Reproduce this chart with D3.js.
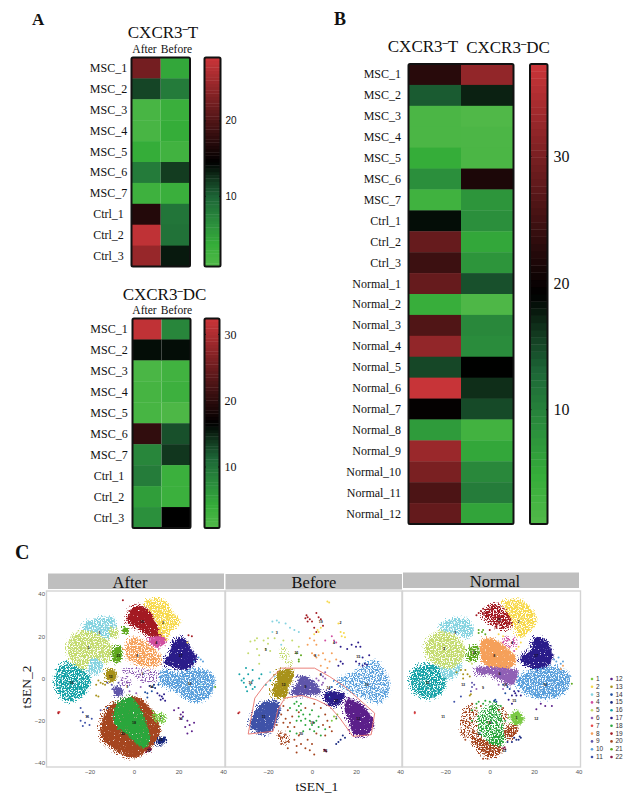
<!DOCTYPE html>
<html>
<head>
<meta charset="utf-8">
<script src="https://cdnjs.cloudflare.com/ajax/libs/d3/7.8.5/d3.min.js"></script>
<style>
  html, body { margin: 0; padding: 0; background: #fff; }
  svg { display: block; }
  text { font-family: "Liberation Serif", serif; fill: #111; }
  .tsneAxis text { font-family: "Liberation Sans", sans-serif; font-size: 6px; fill: #555; }
  .legendText { font-family: "Liberation Sans", sans-serif; font-size: 6.5px; fill: #333; }
</style>
</head>
<body>
<script>
// HEATMAP DATA //
const mscCtrlRows = ['MSC_1','MSC_2','MSC_3','MSC_4','MSC_5','MSC_6','MSC_7','Ctrl_1','Ctrl_2','Ctrl_3'];
const allRows = mscCtrlRows.concat(['Normal_1','Normal_2','Normal_3','Normal_4','Normal_5','Normal_6',
  'Normal_7','Normal_8','Normal_9','Normal_10','Normal_11','Normal_12']);
const afterBefore = ['After', 'Before'];
const tCols = ['CXCR3-T', 'CXCR3-DC'];

const tAfter  = [22.6, 11.5, 1.5, 1.5, 3.5, 8, 2.5, 17, 27.8, 25];
const tBefore = [4, 8, 3, 3.5, 2.2, 12, 3, 8.5, 8.8, 13.5];
const dcAfter  = [31.8, 16, 1.5, 2, 1.8, 20.5, 8, 9, 5.5, 7];
const dcBefore = [8, 16, 2.5, 3, 1.2, 12.5, 14, 3.2, 3.2, 16.6];
const bT  = [22.8, 13.7, 1.7, 1.7, 4.6, 8.2, 3.1, 18.4, 28.4, 24.6, 28.4, 4.2, 26.4, 32.4, 15, 37.2, 19.5, 6.8, 33.1, 30.2, 26, 28.2];
const bDC = [32.4, 17.3, 1, 1.5, 1.7, 21.7, 7.5, 8.2, 5.3, 7.5, 14.4, 1.2, 9, 8.6, 19.1, 16.6, 14.8, 2.8, 5.3, 9, 10.4, 5.7];

const colorStops = [0, 0.1, 0.2, 0.33, 0.42, 0.5, 1];
const colorRange = ['#50b848', '#35ad39', '#2b8f3c', '#1d6637', '#11351d', '#000000', '#c83438'];

// TSNE DATA //
const clusterIds = d3.range(1, 23);
const clusterColors = ['#7ac943','#f7d94c','#85d3e0','#d14fa0','#c4db6e','#9060b5','#e84a4a','#f5a05a','#5f55aa','#5ba0dc','#3f52a8',
  '#5b1f8a','#a8921a','#1f4fa0','#1a2a80','#17a3a8','#2a1c8a','#2aa63c','#a31a22','#a5451f','#5ea81e','#8a1a4a'];
const xTicks = [-20, 0, 20, 40];
const yTicks = [-40, -20, 0, 20, 40];
const panelNames = ['After', 'Before', 'Normal'];

// cluster outlines in tSNE coordinates: [cluster, texture, [[x,y],...]]
const afterBlobs = [
  [16,'dense',[[-33.3,5.8],[-28,6.9],[-19.8,.3],[-22.8,-7.6],[-30.3,-10.4],[-34.8,-4.4]]],
  [3,'dense',[[-22.8,24.7],[-18.3,27.9],[-9.3,28.3],[-8.5,23.1],[-10.8,19.2],[-16.8,20.8],[-22,21.7]]],
  [3,'dense',[[-19,10],[-14,11],[-14,6],[-17,2],[-20,3]]],
  [5,'dense',[[-28.8,17.6],[-22.8,22.7],[-15.3,20.8],[-10,14.5],[-12.2,7.4],[-18.3,9.8],[-22.8,4.3],[-28.8,9.8]]],
  [5,'dense',[[-11,24],[-8,23.5],[-7.5,20],[-10,19.5]]],
  [19,'solid',[[-2.8,29.4],[-.3,34],[5.7,33.4],[10.2,25.5],[12.7,19.2],[7.2,20],[1.2,24.1],[-2.5,26.3]]],
  [2,'dense',[[5.7,36.5],[13.2,36.9],[17.7,31],[20.7,27],[16.2,22.4],[14.7,18.4],[11.7,19.2],[10.2,27],[6.4,33.4]]],
  [4,'solid',[[7.2,19.2],[13.7,19.5],[14,16.9],[10.2,14.5],[7.2,16.4]]],
  [17,'solid',[[17.7,17.6],[21.9,19.2],[25.9,13],[28.2,9.8],[23.7,4.3],[16.2,5.8],[13.2,7.4],[16.2,12.1]]],
  [8,'dense',[[-1,19.2],[2.7,18.4],[10.9,12.1],[11.7,7.4],[5.7,5.8],[-2.5,9.8],[-3.6,14.5]]],
  [6,'sparse',[[-5.5,4.3],[2.7,5],[11.7,2.7],[10.2,-1.3],[4.2,-2],[-.3,1.9],[-4.8,2.7]]],
  [6,'sparse',[[-6.5,0],[-2,1],[-1,-3],[-6,-3]]],
  [10,'dense',[[13.2,3.5],[19.2,2.7],[29.7,4.3],[36,.3],[33.7,-8.3],[27,-10.7],[19.2,-6],[11.7,-1.3]]],
  [13,'solid',[[-12.5,4],[-9,4],[-8,.5],[-10,-1.5],[-12.5,0]]],
  [21,'solid',[[-9,14],[-6.5,15],[-5.5,10.5],[-7.5,7.5],[-9.5,9]]],
  [21,'solid',[[-4.8,24],[-3,24],[-3,21.5],[-4.8,21.5]]],
  [9,'solid',[[-9,-4],[-6,-4.5],[-5,-7.5],[-8.5,-8]]],
  [20,'solid',[[-7.8,-11.5],[-.3,-8.8],[5.7,-12.3],[11.7,-24.9],[7.2,-32.8],[-.3,-37.5],[-7.8,-34.4],[-14.5,-28],[-14.5,-20.2],[-10.8,-13]]],
  [18,'solid',[[-7.8,-12.3],[-1,-9.1],[2.7,-13.9],[7.2,-29.6],[4.2,-32.8],[-3.3,-26.5],[-8.5,-21.7]]],
  [1,'dense',[[8.7,-16.2],[13.9,-17.8],[13.2,-20.9],[9.4,-20.2]]],
  [15,'solid',[[10,-30],[13.5,-27.5],[14.5,-29],[11.5,-31.5]]],
  [22,'solid',[[5.5,-33],[7.5,-33],[7.5,-34.3],[5.5,-34.3]]]
];
const beforeBlobs = [
  [10,'medium',[[11,-1.4],[18.6,2.5],[29,8],[35.3,-4.6],[30.8,-10.9],[21.7,-7.7],[14.1,-3.8]]],
  [11,'solid',[[-21.5,-10.9],[-15.5,-11.7],[-14.7,-14.8],[-17,-21.9],[-20,-25.8],[-26.8,-24.3],[-28.3,-21.9],[-25.3,-14.8]]],
  [13,'solid',[[-15.5,3.3],[-9.4,4.1],[-8.6,.9],[-10.9,-3.8],[-11.7,-8.5],[-17,-8.5],[-18,-5.4],[-16.2,-1.4]]],
  [9,'solid',[[-5.6,.9],[-1.8,.2],[2.7,-3.8],[3.5,-6.9],[-1.1,-7.7],[-7.9,-7.7],[-9.4,-6.1],[-6.4,-2.2]]],
  [17,'solid',[[5.8,-6.9],[10.3,-6.1],[14.8,-7.7],[12.6,-11.7],[9.5,-13.2],[6.5,-10.9]]],
  [12,'solid',[[15.6,-10.1],[20.2,-10.9],[24.7,-14.8],[27.7,-20.3],[26.9,-24.3],[23.2,-27.4],[18.6,-25.8],[17.1,-20.3],[14.8,-14.8]]],
  [5,'sparse',[[-15,14],[-12,15],[-9,9],[-8,6.5],[-11,7],[-14,10]]],
  [20,'sparse',[[-16,-25.5],[-12,-25.5],[-9.5,-28],[-11.5,-31.5],[-14,-30]]]
];
const normalBlobs = [
  [16,'dense',[[-33.4,4.9],[-25.1,6.5],[-19.9,1.7],[-21.4,-6.1],[-26.6,-9.3],[-33.4,-6.9],[-35.6,.2]]],
  [3,'dense',[[-22.2,24.6],[-17.7,27.7],[-10.2,27.7],[-7.5,23.8],[-9.4,19.8],[-15.4,21.4],[-20.7,22.2]]],
  [3,'dense',[[-21,6],[-15,9],[-13,5],[-18,0],[-22,2]]],
  [5,'dense',[[-28.1,17.5],[-22.2,22.2],[-15.4,19.8],[-11,13.5],[-16.2,4.9],[-23.7,6.5],[-28.1,11.2]]],
  [19,'dense',[[-2.7,31.7],[3.3,35.1],[7.8,31.7],[10.8,26.1],[7.8,23.8],[1.8,25.4],[-2.7,29.3]]],
  [2,'dense',[[6.3,36.1],[14.5,36.7],[20.9,27.7],[17.5,22.2],[13.8,19.8],[10.8,25.4],[7.8,31.7]]],
  [4,'sparse',[[6.5,19.5],[12,19.5],[12.5,15],[7,15]]],
  [8,'solid',[[-3.4,18.3],[1.8,18.3],[11.5,9.6],[9.3,5.2],[-1.9,6.5],[-4.2,11.2]]],
  [17,'solid',[[20.5,19],[25.7,17.5],[28,9.6],[22.8,4.1],[16,6.5],[13.8,9.6],[18.3,13.5]]],
  [6,'solid',[[-6,4.9],[3.3,5.2],[12.3,3.3],[10,-3],[4.8,-.6],[.3,1.7],[-5.7,2.5]]],
  [10,'dense',[[12.3,-1.4],[19.8,4.1],[31.7,4.9],[36.2,.2],[33.2,-6.9],[24.3,-9.3],[16.8,-6.9]]],
  [21,'dense',[[-8.5,15],[-5,15],[-5,10],[-8,8.5],[-10,10]]],
  [20,'sparse',[[-12,-15],[-7,-12],[-5,-20],[-6,-27],[-12,-28]]],
  [20,'sparse',[[3,-13],[8,-16],[7,-22],[3,-20]]],
  [18,'medium',[[-5,-18.7],[3.3,-12.4],[6.3,-26.6],[3.3,-32.1],[-4.2,-25]]],
  [20,'dense',[[-7.9,-27.4],[-.4,-29.8],[5.5,-32.9],[2.5,-36.9],[-3.4,-35.3]]],
  [20,'dense',[[6.6,-24.3],[12.3,-21.9],[11.5,-26.6],[7.8,-28.2]]],
  [18,'dense',[[-.4,-29.8],[5.5,-25],[6.3,-30],[3.3,-32.1]]],
  [1,'solid',[[9.3,-18],[12.3,-15.6],[15.3,-19.5],[11.5,-21.9]]]
];

// single points: [x, y, cluster]
const afterPoints = [
  [-24,-14,11],[-23,-16,11],[-21,-18,11],[-24,-20,11],[-22,-21,11],[-20,-22,11],[-23,-22.5,11],[-19,-19,11],
  [18,-15,12],[20,-14,12],[21,-17,12],[22,-16,12],[21,-19,12],[24,-20,12],[25,-22,12],[27,-21,12],[23,-23,12],[26,-25,12],[24,-26,12],[22,-18,12],
  [10.5,-7,17],[11.5,-8,17],[12.5,-8.5,17],[13.5,-7.5,17],[12,-10,17],[13,-9.5,17],[14,-10.5,17],[9,-3,15],[8,-4,15],[9.5,-4.5,15],[7,-3.5,15],
  [-17,-8,13],[-16,-8.5,13],[-15,-2,13],[-17,-3,13],[-16,-1,13],[-14,-2.5,13],[-13,-3,13],
  [-34,-16,19],[-34,-16.5,19],[-33.5,-15.8,7],[8,-6,14],[6,-7,14],[5,-6.5,14],[11,-3,14],[6,-9,14],
  [-12,-2,9],[-10,-3,9],[-7,-2,9],[-3,-2,6],[-2,-6,6],[1,-7,6],[3,-4,6],[-15,-15,9],[-12,-14,14],[12,3,10],
  [-5,37,19],[-2,32,19],[30,9,10],[29,10,10],[31,8,10],[27,8,10],[26,20,19],[24.5,20.5,19],[24,17,2],[30,-3,3],[36.5,-4,21]
];
const beforePoints = [
  // 20
  [-13,-13,20],[-11,-15,20],[-14,-17,20],[-12,-19,20],[-10,-21,20],[-13,-21,20],[-9,-18,20],[-11,-23,20],[-8,-23,20],[-6,-27,20],[-8,-29,20],
  [-7,-32,20],[-5,-31,20],[-3,-33,20],[-2,-29,20],[0,-31,20],[2,-26,20],[1,-36,20],[5,-22,20],[7,-20,20],[8,-23,20],[9,-25,20],[6,-27,20],
  [-15,-27,20],[-13.5,-28,20],[-12,-26.5,20],[-10.5,-30,20],[-14,-31,20],[-11,-33,20],[-3,-14,20],[-6,-16,20],[1,-12,20],[4,-14,20],[6,-17,20],[-16,-22,20],[-7,-35,20],[-1,-34,20],
  // 18
  [-10,-14,18],[-8,-12,18],[-7,-11,18],[-6,-13,18],[-5,-12,18],[-7,-15,18],[-5,-15,18],[-6,-18,18],[-4,-17,18],[-3,-19,18],[-1,-17,18],[-5,-20,18],[-7,-20,18],[-3,-22,18],
  [-1,-20,18],[0,-22,18],[1,-21,18],[2,-20,18],[-1,-24,18],[1,-25,18],[3,-23,18],[-4,-25,18],[3,-18,18],[-7,-26,18],[0,-15,18],[4,-27,18],[6,-24,18],[-10,-25,18],
  // 19, 2, 4, 8
  [-2.5,30,19],[-2,29,19],[-1,28,19],[-2,27,19],[2,31,19],[3,29,19],[4,28,19],[-3,28.5,19],[0,27,19],[1,24,19],[2,22,19],[5,25,19],
  [7,36.5,2],[7.8,36,2],[12,26,2],[13,22,2],[14.5,21.5,2],[15,19.5,2],[13.5,20,2],[3,22,2],[1,21,2],[2.5,23,2],[4,24,2],
  [6,18,4],[11,17,4],[9,20,4],[10,18,4],
  [-1,19,8],[1,18,8],[0,12,8],[1,11,8],[2,10,8],[3,11,8],[6,9,8],[8,8,8],[9,12,8],[11,9,8],[4,6,8],[-2,16,8],[2,16,8],[5,12,8],[7,5,8],
  // 3, 5, 16, 15
  [-18,27,3],[-16,27.5,3],[-15,26.5,3],[-12,26,3],[-18,22,3],[-10,24,3],[-8,23,3],[-6,22,3],[-14,16,3],[-17,1,3],[-19,3,3],
  [-28,17.5,5],[-26,18,5],[-25,19,5],[-22,18,5],[-20,16.5,5],[-29,12,5],[-25,14,5],[-24,11,5],[-19,13,5],[-20,19,5],[-21,14,5],[-17,19,5],[-13,18,5],[-9,18,5],[-6,15,5],[-24,7,5],
  [-32,-1,16],[-31,-2,16],[-30,-4,16],[-28,-3,16],[-27,-1,16],[-29,2,16],[-31,0,16],[-27,-5,16],[-29.5,-6,16],[-26,-4,16],[-24,0,16],[-23,2,16],[-21,-3,16],[-19,-1,16],[-30,5,16],[-27,4,16],[-33,2,16],
  [13,15,17],[16,14,17],[18,16,17],[20,15,17],[22,15,17],[21,17,17],[23,10,17],[21.5,7,17],[23,6,17],[24,7,17],[25,6.5,17],[20,8,17],[14,7,17],[13,8,17],[12,6,17],[26,11,17],
  // 6, 21, 1, 14, 22, others
  [4,2,6],[5,1,6],[3,-1,6],[6,0,6],[5,-2,6],[6,3,6],[2,0,6],[4.5,-3,6],
  [-7,12,21],[-6,9,21],[-5,11,21],[-6,8,21],[10,-18,1],[11,-19,1],[9,-20,1],[11.5,-17,1],[-33,-16,7],[-33.5,-16.5,19],
  [14,-27,15],[13,-29,15],[12,-30,15],[15,-28,15],[11,-31,15],[6,-34,22],[6.5,-34.5,22],[5.5,-33.7,22],[-20,-22,11],[8,-9,14],[7,-7,14],[9,-4,14]
];
const normalPoints = [
  // 18 and 20 scatter
  [-9,-15,20],[-8,-12,20],[-11,-16,20],[-12,-20,20],[-9,-19,20],[-10,-23,20],[-7,-25,20],[-12,-26,20],[-6,-17,20],[-11,-29,20],[-8,-30,20],[-4,-13,20],[4,-15,20],[6,-14,20],[7,-17,20],[-3,-38,20],[-1,-38,20],
  [-6,-12,18],[-5,-11,18],[-3,-12,18],[1,-13,18],[-8,-15,18],[-2,-10.5,18],[0,-11,18],[2,-11,18],[-8,-20,18],[5,-13,18],[7,-20,18],
  [-6,-14,21],[2,-10.5,14],[2.5,-10,14],[3,-11,14],
  // 17 and 14 stragglers
  [6,-3,14],[8,-4,14],[9,-5,14],[7,-7,14],[11,-6,17],[11.5,-7,17],[12,-8,17],[13,-6,17],[10,-8,17],[14,-8,17],[8.5,-10,17],[10,-12,17],
  [11,-28,15],[12,-29,15],[13,-29,15],[14,-28,15],[10,-30,15],[8,-30,15],[13.5,-27.5,15],[6,-33,22],[6.7,-32.5,22],[7,-33.5,22],
  [25,-13,12],[28,-13,12],[23,-12,12],[21,-14.5,12],
  // light, top clusters
  [-33.8,-16,19],[-33.8,-16.5,7],[-15,3,13],[-13,4,13],[-11,4,13],[-12,2,13],[-10,2,13],[-12,0,13],[-9,1,13],[-9,-8,13],[-8.5,-7.5,13],
  [-8,-4,9],[-8.5,-6,9],[-7,-3,9],[-8,-2,9],[-13,-8.5,11],[-16,-11,11],
  [-5,23,21],[-3.5,22,21],[-3,23,21],[-2,21,21],[-5,21.5,21],[-6,30,19],[-4,32,19],[-3,33,19],[-5,31,19],[0,23,19],[3,24,19],
  [9,15,4],[6,17,4],[8,18,4],[10,17,4],[11,13,4],[12,14,2],[13,15,2],[6,20,2],[4,21,2],[14,17,2],
  [29,9,10],[31,10,10],[30,8,10],[33,8,10],[32,7,10],[33,6,8],[32,4.5,8],[37,-2.5,21],[4,-3,6],[6,-5,6],[-6,-5,6],[7,-2,6],
  [-15,9,5],[-12,11,5],[-9,8,5],[-8,7,5]
];

// small numbers printed on each cluster: [cluster, x, y]
const afterLabels = [[19,3.5,27],[2,13,26.5],[4,10,17],[3,-15.5,21.5],[5,-20.5,14.5],[16,-28,-2],[8,1.5,11],[6,4,2.5],[17,21,11],[10,25,-2.5],[21,-7,11],[20,-5,-26],[18,0,-21],[1,12,-18.5],[13,-10.5,1],[9,-3,-4],[12,21,-19],[11,-21,-18],[22,6.5,-34],[15,12,-29],[14,8,-4]];
const beforeLabels = [[19,4,27],[2,13,26.5],[4,10,17],[3,-16,21.5],[5,-21,13.5],[21,-7,12],[8,1.5,11],[16,-28,-2],[13,-13,-3],[9,-3,-4],[6,4,2],[15,21,10.5],[10,25,-3],[17,11,-10.5],[14,7.5,-4.5],[11,-22,-18],[12,21,-19],[20,-5,-26],[18,0,-21],[1,11,-18.5],[22,6,-34]];
const normalLabels = [[19,4,28],[2,13,27],[4,10,17],[3,-15.5,21.5],[5,-20.5,14],[21,-7,12],[8,2,11],[17,21,11],[16,-28,-2],[6,4.5,2.5],[10,25,-3],[13,-12,-3],[9,-3,-4.5],[14,7,-3],[15,11,-10.5],[1,12,-18.5],[18,0,-21],[20,-5,-26],[11,-21,-18],[12,21,-19],[22,6.5,-34]];

// red outline around the expanded clusters in the Before panel
const gateOutline = [[-13.9,4.9],[1.2,4.9],[8,.9],[14.8,-3.8],[28.5,-16.4],[26.9,-26.6],[18.6,-27.4],[12.6,-18.7],[8,-13.2],[2,-10.1],[-4.8,-8],[-12.4,-9.3],[-15.5,-14.8],[-17.7,-25],[-29,-26.3],[-26,-9.3],[-21.5,-3]];

// MAIN SVG //
const width = 632;
const height = 801;
const svg = d3.select('body').append('svg').attr('width', width).attr('height', height);
const defs = svg.append('defs');

// noise filters only give the filled outlines their dotted look, no values come from them
function addFilter(id, threshold){
  const f = defs.append('filter').attr('id', id)
    .attr('x', '-15%').attr('y', '-15%').attr('width', '130%').attr('height', '130%')
    .attr('color-interpolation-filters', 'sRGB');
  f.append('feTurbulence').attr('type', 'fractalNoise').attr('baseFrequency', 0.75)
    .attr('numOctaves', 2).attr('seed', 4).attr('result', 'noise');
  f.append('feDisplacementMap').attr('in', 'SourceGraphic').attr('in2', 'noise').attr('scale', 6)
    .attr('xChannelSelector', 'R').attr('yChannelSelector', 'G').attr('result', 'rough');
  f.append('feColorMatrix').attr('in', 'noise').attr('type', 'matrix')
    .attr('values', '0 0 0 0 0  0 0 0 0 0  0 0 0 0 0  9 0 0 0 ' + (-9*threshold)).attr('result', 'holes');
  f.append('feComposite').attr('in', 'rough').attr('in2', 'holes').attr('operator', 'in');
}
addFilter('solid', 0.2);
addFilter('dense', 0.38);
addFilter('medium', 0.44);
addFilter('sparse', 0.5);
addFilter('halo', 0.52);

// PANEL LETTERS //
svg.append('text').attr('x', 32).attr('y', 25).style('font-size', '17px').style('font-weight', 'bold').text('A');
svg.append('text').attr('x', 334).attr('y', 25).style('font-size', '18px').style('font-weight', 'bold').text('B');
svg.append('text').attr('x', 15).attr('y', 559).style('font-size', '20px').style('font-weight', 'bold').text('C');

// HEATMAPS //
function cxcrTitle(g, x, y, size, tail){
  const t = g.append('text').attr('x', x).attr('y', y).attr('text-anchor', 'middle').style('font-size', size + 'px');
  t.append('tspan').text('CXCR3');
  t.append('tspan').attr('dy', -size*0.36).style('font-weight', 'bold').style('font-size', (size*0.62) + 'px').text('\u2013');
  t.append('tspan').attr('dy', size*0.36).text(tail);
}

function drawHeat(opt){
  const g = svg.append('g');
  const x = d3.scaleBand().domain(opt.cols).range([opt.x0, opt.x1]);
  const y = d3.scaleBand().domain(opt.rows).range([opt.y0, opt.y1]);
  const norm = d3.scaleLinear().domain([opt.min, opt.max]).range([0, 1]);
  const color = d3.scaleLinear().domain(colorStops).range(colorRange);

  opt.cols.forEach((c, j) => {
    g.selectAll('rect.c' + j)
      .data(opt.series[j])
      .enter()
      .append('rect')
      .attr('class', 'c' + j)
      .attr('x', x(c))
      .attr('y', (d, i) => y(opt.rows[i]))
      .attr('width', x.bandwidth())
      .attr('height', y.bandwidth() + 0.4)
      .attr('fill', d => color(norm(d)));
  });
  g.append('rect')
    .attr('x', opt.x0).attr('y', opt.y0)
    .attr('width', opt.x1 - opt.x0).attr('height', opt.y1 - opt.y0)
    .attr('rx', 1.5).attr('fill', 'none').attr('stroke', '#111').attr('stroke-width', 2);

  g.selectAll('text.row')
    .data(opt.rows)
    .enter()
    .append('text')
    .attr('class', 'row')
    .attr('x', opt.labelX)
    .attr('y', d => y(d) + y.bandwidth()/2 + 4)
    .attr('text-anchor', opt.labelAnchor)
    .style('font-size', '12px')
    .text(d => d);

  // color bar
  const barY = d3.scaleLinear().domain([opt.min, opt.max]).range([opt.y1, opt.y0]);
  const levels = d3.range(64);
  const levelH = (opt.y1 - opt.y0)/levels.length;
  g.selectAll('rect.level')
    .data(levels)
    .enter()
    .append('rect')
    .attr('class', 'level')
    .attr('x', opt.barX0)
    .attr('y', d => opt.y1 - (d + 1)*levelH)
    .attr('width', opt.barX1 - opt.barX0)
    .attr('height', levelH + 0.4)
    .attr('fill', d => color(d/(levels.length - 1)));
  g.append('rect')
    .attr('x', opt.barX0).attr('y', opt.y0)
    .attr('width', opt.barX1 - opt.barX0).attr('height', opt.y1 - opt.y0)
    .attr('rx', 1.5).attr('fill', 'none').attr('stroke', '#111').attr('stroke-width', 2);
  opt.barTicks.forEach(t => {
    g.append('line').attr('x1', opt.barX0).attr('x2', opt.barX0 + 1.5).attr('y1', barY(t)).attr('y2', barY(t)).attr('stroke', '#111');
    g.append('line').attr('x1', opt.barX1 - 1.5).attr('x2', opt.barX1).attr('y1', barY(t)).attr('y2', barY(t)).attr('stroke', '#111');
    g.append('text')
      .attr('x', opt.barX1 + opt.tickGap)
      .attr('y', barY(t) + opt.tickSize*0.36)
      .style('font-size', opt.tickSize + 'px')
      .style('font-family', opt.tickFont)
      .text(t);
  });
  return {g: g, x: x};
}

const topT = drawHeat({cols: afterBefore, rows: mscCtrlRows, series: [tAfter, tBefore],
  x0: 131.5, x1: 190, y0: 57.5, y1: 266.5, min: 0.7, max: 28.4,
  labelX: 108.5, labelAnchor: 'middle', barX0: 204.5, barX1: 220.5, barTicks: [10, 20],
  tickGap: 5, tickSize: 10, tickFont: '"Liberation Sans", sans-serif'});
cxcrTitle(topT.g, 163, 38, 17, 'T');

const topDC = drawHeat({cols: afterBefore, rows: mscCtrlRows, series: [dcAfter, dcBefore],
  x0: 132.5, x1: 190.5, y0: 318.5, y1: 528, min: 0.8, max: 32.4,
  labelX: 109, labelAnchor: 'middle', barX0: 204.5, barX1: 219.5, barTicks: [10, 20, 30],
  tickGap: 5, tickSize: 12, tickFont: '"Liberation Serif", serif'});
cxcrTitle(topDC.g, 164.5, 300, 17, 'DC');

[topT, topDC].forEach((h, i) => {
  h.g.append('text').attr('x', 144.5).attr('y', i ? 314 : 53).attr('text-anchor', 'middle').style('font-size', '11.5px').text('After');
  h.g.append('text').attr('x', 176.5).attr('y', i ? 314 : 53).attr('text-anchor', 'middle').style('font-size', '11.5px').text('Before');
});

const bigHeat = drawHeat({cols: tCols, rows: allRows, series: [bT, bDC],
  x0: 408.5, x1: 513.5, y0: 64, y1: 524, min: 0.97, max: 37.3,
  labelX: 401, labelAnchor: 'end', barX0: 530, barX1: 547.5, barTicks: [10, 20, 30],
  tickGap: 6, tickSize: 16, tickFont: '"Liberation Serif", serif'});
cxcrTitle(bigHeat.g, 423, 52, 17, 'T');
cxcrTitle(bigHeat.g, 508, 53, 17, 'DC');

// TSNE PANELS //
const panels = [
  {name: panelNames[0], x0: 45, x1: 223, stripX0: 48, stripX1: 224, stripY: 573.5, titleX: 130, blobs: afterBlobs, points: afterPoints, labels: afterLabels},
  {name: panelNames[1], x0: 224, x1: 400, stripX0: 225.5, stripX1: 402, stripY: 574, titleX: 314, blobs: beforeBlobs, points: beforePoints, labels: beforeLabels},
  {name: panelNames[2], x0: 401, x1: 578.5, stripX0: 403, stripX1: 579, stripY: 572.5, titleX: 495, blobs: normalBlobs, points: normalPoints, labels: normalLabels}
];
const clusterColor = d3.scaleOrdinal().domain(clusterIds).range(clusterColors);
const plotTop = 594;
const plotBottom = 763;
const scaleY = d3.scaleLinear().domain([40, -40]).range([plotTop, plotBottom]);

panels.forEach(p => {
  const g = svg.append('g').attr('class', 'tsnePanel');
  const scaleX = d3.scaleLinear().domain([-40, 40]).range([p.x0, p.x1]);

  g.append('rect')
    .attr('x', p.stripX0).attr('y', p.stripY)
    .attr('width', p.stripX1 - p.stripX0).attr('height', 15.5)
    .attr('fill', '#bfbfbf');
  g.append('text')
    .attr('x', p.titleX).attr('y', p.stripY + 14)
    .attr('text-anchor', 'middle').style('font-size', '16.5px')
    .text(p.name);

  g.append('rect')
    .attr('x', p.x0 + 1.5).attr('y', 591)
    .attr('width', p.x1 - p.x0 + 0.5).attr('height', 176)
    .attr('fill', '#fff').attr('stroke', '#d4d4d4').attr('stroke-width', 1.4);

  const outline = d3.line().x(d => scaleX(d[0])).y(d => scaleY(d[1])).curve(d3.curveCatmullRomClosed);

  // loose dots around each cluster edge
  g.selectAll('path.edge')
    .data(p.blobs.filter(d => d[1] !== 'sparse'))
    .enter()
    .append('path')
    .attr('class', 'edge')
    .attr('d', d => outline(d[2]))
    .attr('fill', 'none')
    .attr('stroke', d => clusterColor(d[0]))
    .attr('stroke-width', 5)
    .attr('filter', 'url(#halo)');

  g.selectAll('path.blob')
    .data(p.blobs)
    .enter()
    .append('path')
    .attr('class', 'blob')
    .attr('d', d => outline(d[2]))
    .attr('fill', d => clusterColor(d[0]))
    .attr('filter', d => 'url(#' + d[1] + ')');

  g.selectAll('circle.pt')
    .data(p.points)
    .enter()
    .append('circle')
    .attr('class', 'pt')
    .attr('cx', d => scaleX(d[0]))
    .attr('cy', d => scaleY(d[1]))
    .attr('r', 1)
    .attr('fill', d => clusterColor(d[2]));

  g.selectAll('text.num')
    .data(p.labels)
    .enter()
    .append('text')
    .attr('class', 'num')
    .attr('x', d => scaleX(d[1]))
    .attr('y', d => scaleY(d[2]) + 1.3)
    .attr('text-anchor', 'middle')
    .style('font-family', '"Liberation Sans", sans-serif')
    .style('font-size', '3.6px')
    .style('font-weight', 'bold')
    .text(d => d[0]);

  g.append('g').attr('class', 'tsneAxis')
    .attr('transform', 'translate(0,770)')
    .call(d3.axisBottom(scaleX).tickValues(xTicks).tickSize(0).tickPadding(0))
    .call(a => a.select('.domain').remove());

  if(p.name === 'Before'){
    g.append('path')
      .attr('d', outline.curve(d3.curveLinearClosed)(gateOutline))
      .attr('fill', 'none').attr('stroke', '#e8736c').attr('stroke-width', 0.9);
  }
  if(p.name === 'After'){
    g.append('g').attr('class', 'tsneAxis')
      .attr('transform', 'translate(46,0)')
      .call(d3.axisLeft(scaleY).tickValues(yTicks).tickSize(0).tickPadding(1))
      .call(a => a.select('.domain').remove());
  }
});

// axis titles
svg.append('text').attr('x', 317).attr('y', 791).attr('text-anchor', 'middle').style('font-size', '13.5px').text('tSEN_1');
svg.append('text').attr('transform', 'translate(31,687) rotate(-90)').attr('text-anchor', 'middle').style('font-size', '13.5px').text('tSEN_2');

// LEGEND //
const legendY = d3.scaleLinear().domain([0, 10]).range([679, 757]);
const legend = svg.append('g').selectAll('g')
  .data(clusterIds)
  .enter()
  .append('g')
  .attr('transform', (d, i) => 'translate(' + (i < 11 ? 592 : 611.5) + ',' + legendY(i % 11) + ')');
legend.append('circle').attr('r', 1.3).attr('fill', d => clusterColor(d));
legend.append('text').attr('class', 'legendText').attr('x', 4).attr('y', 2).text(d => d);
</script>
</body>
</html>
